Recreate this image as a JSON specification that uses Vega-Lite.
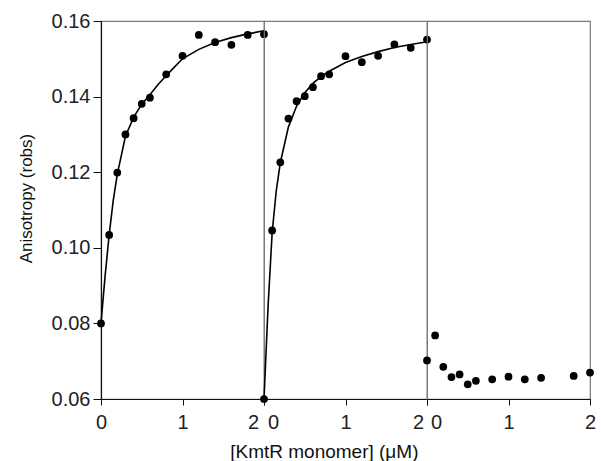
{
  "$schema": "https://vega.github.io/schema/vega-lite/v6.json",
  "padding": {"left": 16, "top": 10, "right": 6, "bottom": 4},
  "background": "white",
  "bounds": "flush",
  "datasets": {
    "pts": [
      {"panel": "A", "kind": "label", "label": "A"},
      {"panel": "B", "kind": "label", "label": "B"},
      {"panel": "C", "kind": "label", "label": "C"},
      {"panel": "A", "kind": "obs", "x": 0, "r": 0.0800},
      {"panel": "A", "kind": "obs", "x": 0.1, "r": 0.1034},
      {"panel": "A", "kind": "obs", "x": 0.2, "r": 0.1199},
      {"panel": "A", "kind": "obs", "x": 0.3, "r": 0.1300},
      {"panel": "A", "kind": "obs", "x": 0.4, "r": 0.1343},
      {"panel": "A", "kind": "obs", "x": 0.5, "r": 0.1381},
      {"panel": "A", "kind": "obs", "x": 0.6, "r": 0.1397},
      {"panel": "A", "kind": "obs", "x": 0.8, "r": 0.1459},
      {"panel": "A", "kind": "obs", "x": 1.0, "r": 0.1508},
      {"panel": "A", "kind": "obs", "x": 1.2, "r": 0.1563},
      {"panel": "A", "kind": "obs", "x": 1.4, "r": 0.1544},
      {"panel": "A", "kind": "obs", "x": 1.6, "r": 0.1537},
      {"panel": "A", "kind": "obs", "x": 1.8, "r": 0.1563},
      {"panel": "A", "kind": "obs", "x": 2.0, "r": 0.1565},
      {"panel": "A", "kind": "fit", "x": 0, "r": 0.0800},
      {"panel": "A", "kind": "fit", "x": 0.05, "r": 0.0925},
      {"panel": "A", "kind": "fit", "x": 0.1, "r": 0.1034},
      {"panel": "A", "kind": "fit", "x": 0.15, "r": 0.1125},
      {"panel": "A", "kind": "fit", "x": 0.2, "r": 0.1195},
      {"panel": "A", "kind": "fit", "x": 0.3, "r": 0.1295},
      {"panel": "A", "kind": "fit", "x": 0.4, "r": 0.1345},
      {"panel": "A", "kind": "fit", "x": 0.5, "r": 0.1380},
      {"panel": "A", "kind": "fit", "x": 0.6, "r": 0.1405},
      {"panel": "A", "kind": "fit", "x": 0.7, "r": 0.1432},
      {"panel": "A", "kind": "fit", "x": 0.8, "r": 0.1455},
      {"panel": "A", "kind": "fit", "x": 0.9, "r": 0.1478},
      {"panel": "A", "kind": "fit", "x": 1.0, "r": 0.1500},
      {"panel": "A", "kind": "fit", "x": 1.2, "r": 0.1525},
      {"panel": "A", "kind": "fit", "x": 1.4, "r": 0.1543},
      {"panel": "A", "kind": "fit", "x": 1.6, "r": 0.1556},
      {"panel": "A", "kind": "fit", "x": 1.8, "r": 0.1566},
      {"panel": "A", "kind": "fit", "x": 2.0, "r": 0.1574},
      {"panel": "B", "kind": "obs", "x": 0, "r": 0.0600},
      {"panel": "B", "kind": "obs", "x": 0.1, "r": 0.1046},
      {"panel": "B", "kind": "obs", "x": 0.2, "r": 0.1226},
      {"panel": "B", "kind": "obs", "x": 0.3, "r": 0.1342},
      {"panel": "B", "kind": "obs", "x": 0.4, "r": 0.1388},
      {"panel": "B", "kind": "obs", "x": 0.5, "r": 0.1401},
      {"panel": "B", "kind": "obs", "x": 0.6, "r": 0.1425},
      {"panel": "B", "kind": "obs", "x": 0.7, "r": 0.1454},
      {"panel": "B", "kind": "obs", "x": 0.8, "r": 0.1459},
      {"panel": "B", "kind": "obs", "x": 1.0, "r": 0.1507},
      {"panel": "B", "kind": "obs", "x": 1.2, "r": 0.1491},
      {"panel": "B", "kind": "obs", "x": 1.4, "r": 0.1508},
      {"panel": "B", "kind": "obs", "x": 1.6, "r": 0.1538},
      {"panel": "B", "kind": "obs", "x": 1.8, "r": 0.1529},
      {"panel": "B", "kind": "obs", "x": 2.0, "r": 0.1551},
      {"panel": "B", "kind": "fit", "x": 0, "r": 0.0600},
      {"panel": "B", "kind": "fit", "x": 0.05, "r": 0.0845},
      {"panel": "B", "kind": "fit", "x": 0.1, "r": 0.1040},
      {"panel": "B", "kind": "fit", "x": 0.15, "r": 0.1150},
      {"panel": "B", "kind": "fit", "x": 0.2, "r": 0.1225},
      {"panel": "B", "kind": "fit", "x": 0.3, "r": 0.1320},
      {"panel": "B", "kind": "fit", "x": 0.4, "r": 0.1375},
      {"panel": "B", "kind": "fit", "x": 0.5, "r": 0.1410},
      {"panel": "B", "kind": "fit", "x": 0.6, "r": 0.1435},
      {"panel": "B", "kind": "fit", "x": 0.7, "r": 0.1453},
      {"panel": "B", "kind": "fit", "x": 0.8, "r": 0.1467},
      {"panel": "B", "kind": "fit", "x": 1.0, "r": 0.1490},
      {"panel": "B", "kind": "fit", "x": 1.2, "r": 0.1506},
      {"panel": "B", "kind": "fit", "x": 1.4, "r": 0.1519},
      {"panel": "B", "kind": "fit", "x": 1.6, "r": 0.1530},
      {"panel": "B", "kind": "fit", "x": 1.8, "r": 0.1538},
      {"panel": "B", "kind": "fit", "x": 2.0, "r": 0.1545},
      {"panel": "C", "kind": "obs", "x": 0, "r": 0.0702},
      {"panel": "C", "kind": "obs", "x": 0.1, "r": 0.0768},
      {"panel": "C", "kind": "obs", "x": 0.2, "r": 0.0685},
      {"panel": "C", "kind": "obs", "x": 0.3, "r": 0.0658},
      {"panel": "C", "kind": "obs", "x": 0.4, "r": 0.0665},
      {"panel": "C", "kind": "obs", "x": 0.5, "r": 0.0639},
      {"panel": "C", "kind": "obs", "x": 0.6, "r": 0.0648},
      {"panel": "C", "kind": "obs", "x": 0.8, "r": 0.0652},
      {"panel": "C", "kind": "obs", "x": 1.0, "r": 0.0659},
      {"panel": "C", "kind": "obs", "x": 1.2, "r": 0.0652},
      {"panel": "C", "kind": "obs", "x": 1.4, "r": 0.0656},
      {"panel": "C", "kind": "obs", "x": 1.8, "r": 0.0661},
      {"panel": "C", "kind": "obs", "x": 2.0, "r": 0.0670}
    ]
  },
  "spacing": 0,
  "hconcat": [
    {
      "width": 163, "height": 378,
      "data": {"name": "pts"},
      "transform": [{"filter": "datum.panel === 'A'"}],
      "encoding": {
        "x": {"field": "x", "type": "quantitative", "scale": {"domain": [0, 2], "nice": false},
              "axis": {"values": [0, 1, 2], "format": ".0f", "title": null, "labelOverlap": false, "labelOffset": {"condition": {"test": "datum.value == 2", "value": -11}, "value": 0}}},
        "y": {"field": "r", "type": "quantitative", "scale": {"domain": [0.06, 0.16], "nice": false, "zero": false},
              "axis": {"values": [0.06, 0.08, 0.10, 0.12, 0.14, 0.16], "format": ".2f", "title": "Anisotropy (robs)", "tickSize": 8, "labelPadding": 3, "titlePadding": 16, "titleFontSize": 17, "titleY": 177}}
      },
      "layer": [
        {"transform": [{"filter": "datum.kind === 'fit'"}], "mark": {"type": "line", "color": "black", "strokeWidth": 1.6}},
        {"transform": [{"filter": "datum.kind === 'obs'"}], "mark": {"type": "point", "filled": true, "color": "black", "opacity": 1, "size": 60}},
        {"transform": [{"filter": "datum.kind === 'label'"}], "mark": {"type": "text", "align": "left", "baseline": "middle", "fontSize": 27, "font": "Liberation Sans"},
         "encoding": {"x": {"datum": 0.12}, "y": {"datum": 0.1534}, "text": {"field": "label"}}}
      ]
    },
    {
      "width": 163, "height": 378,
      "data": {"name": "pts"},
      "transform": [{"filter": "datum.panel === 'B'"}],
      "encoding": {
        "x": {"field": "x", "type": "quantitative", "scale": {"domain": [0, 2], "nice": false},
              "axis": {"values": [0, 1, 2], "format": ".0f", "title": null, "labelOverlap": false, "labelOffset": {"condition": [{"test": "datum.value == 2", "value": -9}, {"test": "datum.value == 0", "value": 9}], "value": 0}}},
        "y": {"field": "r", "type": "quantitative", "scale": {"domain": [0.06, 0.16], "nice": false, "zero": false}, "axis": null}
      },
      "layer": [
        {"transform": [{"filter": "datum.kind === 'fit'"}], "mark": {"type": "line", "color": "black", "strokeWidth": 1.6}},
        {"transform": [{"filter": "datum.kind === 'obs'"}], "mark": {"type": "point", "filled": true, "color": "black", "opacity": 1, "size": 60}},
        {"transform": [{"filter": "datum.kind === 'label'"}], "mark": {"type": "text", "align": "left", "baseline": "middle", "fontSize": 27, "font": "Liberation Sans"},
         "encoding": {"x": {"datum": 0.07}, "y": {"datum": 0.1534}, "text": {"field": "label"}}}
      ]
    },
    {
      "width": 163, "height": 378,
      "data": {"name": "pts"},
      "transform": [{"filter": "datum.panel === 'C'"}],
      "encoding": {
        "x": {"field": "x", "type": "quantitative", "scale": {"domain": [0, 2], "nice": false},
              "axis": {"values": [0, 1, 2], "format": ".0f", "title": null, "labelOverlap": false, "labelOffset": {"condition": {"test": "datum.value == 0", "value": 9}, "value": 0}}},
        "y": {"field": "r", "type": "quantitative", "scale": {"domain": [0.06, 0.16], "nice": false, "zero": false}, "axis": null}
      },
      "layer": [
        {"transform": [{"filter": "datum.kind === 'obs'"}], "mark": {"type": "point", "filled": true, "color": "black", "opacity": 1, "size": 60}},
        {"transform": [{"filter": "datum.kind === 'label'"}], "mark": {"type": "text", "align": "left", "baseline": "middle", "fontSize": 27, "font": "Liberation Sans"},
         "encoding": {"x": {"datum": 0.13}, "y": {"datum": 0.1534}, "text": {"field": "label"}}}
      ]
    }
  ],
  "title": {"text": "[KmtR monomer] (μM)", "orient": "bottom", "anchor": "middle", "font": "Liberation Sans", "fontSize": 19, "fontWeight": "normal", "color": "#111", "offset": 10, "dx": 18},
  "config": {
    "font": "Liberation Sans",
    "view": {"stroke": "#7a7a7a", "strokeWidth": 1.2},
    "axis": {"grid": false, "domainColor": "#111", "domainWidth": 1.2, "tickColor": "#111", "labelColor": "#222", "labelFont": "Liberation Sans", "labelFontSize": 20, "titleFont": "Liberation Sans", "titleFontWeight": "normal", "titleColor": "#111"},
    "axisX": {"tickSize": 6, "labelPadding": 7, "labelFlush": false, "labelOverlap": false}
  }
}
